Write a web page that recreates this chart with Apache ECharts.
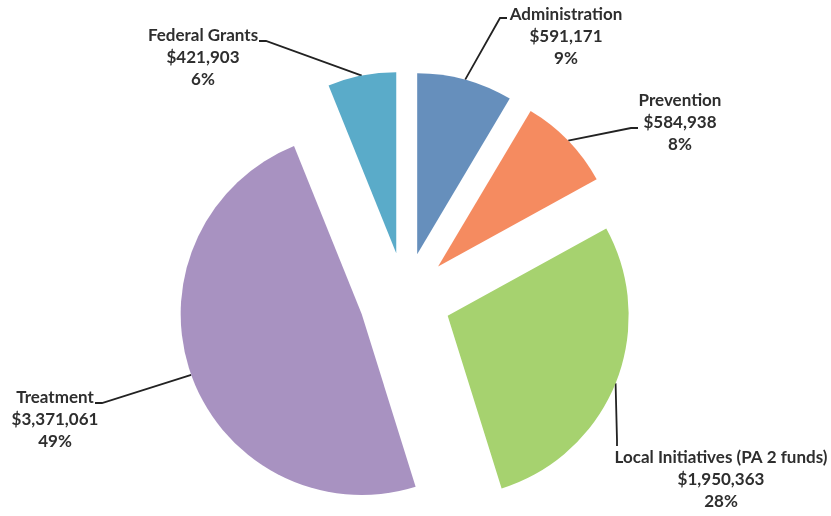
<!DOCTYPE html>
<html>
<head>
<meta charset="utf-8">
<script src="https://cdn.jsdelivr.net/npm/echarts@6/dist/echarts.min.js"></script>
<style>
  html, body { margin: 0; padding: 0; background: #ffffff; }
  #chart { width: 831px; height: 516px; }
</style>
</head>
<body>
<div id="chart"></div>
<script>
// Budget breakdown, clockwise from 12 o'clock
const categories = [
  'Administration',
  'Prevention',
  'Local Initiatives (PA 2 funds)',
  'Treatment',
  'Federal Grants'
];
const amounts = [591171, 584938, 1950363, 3371061, 421903];
const sliceColors = ['#668fbc', '#f58b60', '#a6d26f', '#a892c1', '#5aabc9'];

// Pie geometry
const CENTER = [405, 298.5];
const RADIUS = 181;
const EXPLODE = 46;

// Where each label block sits and how its leader line ends
const labelSpots = [
  { x: 566, y: 37,  elbow: [500, 18],  end: [507, 18] },
  { x: 680, y: 123, elbow: [631, 128], end: [638, 128] },
  { x: 721, y: 480, elbow: [617, 440], end: [617, 446] },
  { x: 55,  y: 420, elbow: [102, 403], end: [95, 403] },
  { x: 203, y: 58,  elbow: [266, 41],  end: [259, 41] }
];

const total = amounts.reduce((a, b) => a + b, 0);

function money(v) {
  return '$' + v.toLocaleString('en-US');
}

// One pie per slice, each pushed out along its own bisector
let running = 0;
const series = categories.map(function (name, i) {
  const mid = (running + amounts[i] / 2) / total * Math.PI * 2;
  running += amounts[i];
  const cx = CENTER[0] + EXPLODE * Math.sin(mid);
  const cy = CENTER[1] - EXPLODE * Math.cos(mid);
  const anchor = [cx + RADIUS * Math.sin(mid), cy - RADIUS * Math.cos(mid)];
  const spot = labelSpots[i];
  return {
    type: 'pie',
    center: [cx, cy],
    radius: RADIUS,
    startAngle: 90,
    clockwise: true,
    silent: true,
    animation: false,
    avoidLabelOverlap: false,
    percentPrecision: 0,
    emphasis: { disabled: true },
    label: {
      show: true,
      position: 'outside',
      fontFamily: 'Lato',
      fontWeight: 'bold',
      fontSize: 17,
      lineHeight: 22,
      color: '#2e2e2e',
      formatter: function (p) {
        return p.name + '\n' + money(p.value) + '\n' + p.percent + '%';
      }
    },
    labelLine: {
      show: true,
      lineStyle: { color: '#222222', width: 1.8 }
    },
    labelLayout: function () {
      return {
        x: spot.x,
        y: spot.y,
        align: 'center',
        verticalAlign: 'middle',
        labelLinePoints: [anchor, spot.elbow, spot.end]
      };
    },
    data: categories.map(function (n, j) {
      const own = j === i;
      return {
        name: n,
        value: amounts[j],
        itemStyle: { color: own ? sliceColors[j] : 'rgba(0,0,0,0)' },
        label: { show: own },
        labelLine: { show: own }
      };
    })
  };
});

const chart = echarts.init(document.getElementById('chart'), null, { renderer: 'canvas' });
chart.setOption({
  backgroundColor: '#ffffff',
  animation: false,
  series: series
});
</script>
</body>
</html>
